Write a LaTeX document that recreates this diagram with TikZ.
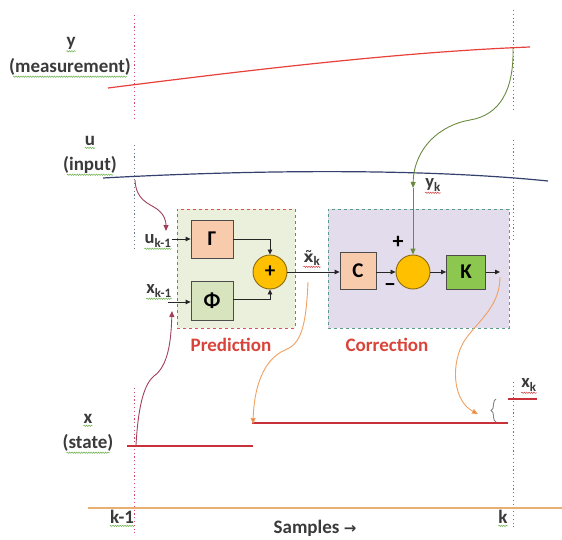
\documentclass[tikz,border=0pt]{standalone}
\usepackage{fontspec}
\setmainfont{Carlito}
\newfontfamily\djv{DejaVu Sans}
\usetikzlibrary{arrows.meta,decorations.pathmorphing,decorations.pathreplacing}
\definecolor{ylinecol}{HTML}{E8403A}
\definecolor{ulinecol}{HTML}{34406E}
\definecolor{statecol}{HTML}{C8303A}
\definecolor{dotred}{HTML}{D24A6E}
\definecolor{dotgray}{HTML}{6A7A8A}
\definecolor{labgray}{HTML}{3A3A3A}
\definecolor{predfill}{HTML}{EAF0DC}
\definecolor{predborder}{HTML}{E05050}
\definecolor{corrfill}{HTML}{E2DCEC}
\definecolor{corrborder}{HTML}{5A9A8A}
\definecolor{peach}{HTML}{F8CBAD}
\definecolor{phifill}{HTML}{D7E4BD}
\definecolor{kfill}{HTML}{8CC850}
\definecolor{sumfill}{HTML}{FFC000}
\definecolor{sumborder}{HTML}{8A6A10}
\definecolor{titlered}{HTML}{D9443A}
\definecolor{maroon}{HTML}{A0405A}
\definecolor{orangecurve}{HTML}{F0A060}
\definecolor{orangetip}{HTML}{ED7D31}
\definecolor{olivecurve}{HTML}{6B8A40}
\definecolor{axiscol}{HTML}{E8B070}
\definecolor{squiggreen}{HTML}{6AB04A}
\definecolor{squigred}{HTML}{D04040}
\begin{document}
\begin{tikzpicture}[x=1pt,y=-1pt,
  every node/.style={font=\fontsize{19}{22}\selectfont\bfseries, inner sep=0pt},
  sidelab/.style={text=labgray},
  sublab/.style={text=labgray, font=\fontsize{18.5}{20}\selectfont\bfseries},
  dotr/.style={dotred, line width=0.9pt, dash pattern=on 1.2pt off 2.6pt},
  dotg/.style={dotgray, line width=0.9pt, dash pattern=on 1.2pt off 2.6pt},
  blk/.style={draw=black!70, line width=0.8pt, font=\fontsize{21}{22}\selectfont\bfseries},
  sumc/.style={circle, draw=sumborder, fill=sumfill, line width=0.9pt, minimum size=34pt},
  arr/.style={-{Triangle[length=5pt,width=4.5pt]}, line width=0.8pt, black!85},
  tip/.style={-{Triangle[length=6pt,width=5pt]}},
  squig/.style={decorate, decoration={snake, amplitude=0.7pt, segment length=2.4pt}, line width=0.5pt},
  gsq/.style={squig, squiggreen},
  rsq/.style={squig, squigred}]
\useasboundingbox (0,0) rectangle (562,540);

% background boxes
\node[draw=predborder, fill=predfill, dashed, line width=0.9pt, minimum width=118pt, minimum height=119pt] (pred) at (236,268.5) {};
\node[draw=corrborder, fill=corrfill, dashed, line width=0.9pt, minimum width=181pt, minimum height=119pt] (corr) at (418.5,268.5) {};
\node[text=titlered] (tpred) at (231,345) {Prediction};
\node[text=titlered] (tcorr) at (387,345) {Correction};

% vertical dotted sample lines
\coordinate (l1a) at (134,15);  \coordinate (l1b) at (134,118);
\coordinate (l2a) at (134,145); \coordinate (l2b) at (134,248);
\coordinate (l3a) at (134,388); \coordinate (l3b) at (134,533);
\coordinate (r1a) at (513,10);  \coordinate (r1b) at (513,110);
\coordinate (r2a) at (513,140); \coordinate (r2b) at (513,240);
\coordinate (r3a) at (513,382); \coordinate (r3b) at (513,527);
\draw[dotr] (l1a) -- (l1b);
\draw[dotg] (l2a) -- (l2b);
\draw[dotr] (l3a) -- (l3b);
\draw[dotr] (r1a) -- (r1b);
\draw[dotg] (r2a) -- (r2b);
\draw[dotr] (r3a) -- (r3b);

% side labels
\node[sidelab] (ty) at (71,43) {y};
\node[sidelab] (tmeas) at (70,67) {(measurement)};
\node[sidelab] (tu) at (90,141) {u};
\node[sidelab] (tinput) at (90,165) {(input)};
\node[sidelab] (tx) at (88,419) {x};
\node[sidelab] (tstate) at (88,443) {(state)};
\node[sidelab] (tk1) at (122,517) {k-1};
\node[sidelab] (tk) at (503,517) {k};
\node[sidelab] (tsamp) at (315,528) {Samples {\djv\fontsize{15}{16}\selectfont →}};
\draw[gsq] ([yshift=-2pt]ty.south west) -- ([yshift=-2pt]ty.south east);
\draw[gsq] ([xshift=4pt,yshift=-1pt]tmeas.south west) -- ([xshift=-4pt,yshift=-1pt]tmeas.south east);
\draw[gsq] ([yshift=-2pt]tu.south west) -- ([yshift=-2pt]tu.south east);
\draw[gsq] ([xshift=4pt,yshift=-1pt]tinput.south west) -- ([xshift=-4pt,yshift=-1pt]tinput.south east);
\draw[gsq] ([yshift=-2pt]tx.south west) -- ([yshift=-2pt]tx.south east);
\draw[gsq] ([xshift=4pt,yshift=-1pt]tstate.south west) -- ([xshift=-4pt,yshift=-1pt]tstate.south east);
\draw[gsq] ([yshift=-2pt]tk1.south west) -- ([yshift=-2pt]tk1.south east);
\draw[gsq] ([yshift=-2pt]tk.south west) -- ([yshift=-2pt]tk.south east);

% signal lines
\coordinate (ya) at (108,88);  \coordinate (yb) at (530,47);
\draw[ylinecol, line width=1.2pt] (ya) .. controls (250,70) and (400,52) .. (yb);
\coordinate (ua) at (103,178); \coordinate (ub) at (548,181);
\draw[ulinecol, line width=1.2pt] (ua) .. controls (250,170) and (420,168) .. (ub);
\coordinate (sa) at (127,446); \coordinate (sb) at (253,446);
\draw[statecol, line width=1.1pt] (sa) -- (sb);
\coordinate (pa) at (252,423); \coordinate (pb) at (508,423);
\draw[statecol, line width=1.1pt] (pa) -- (pb);
\coordinate (xa) at (508,399); \coordinate (xb) at (537,399);
\draw[statecol, line width=1.1pt] (xa) -- (xb);
\coordinate (axa) at (88,508); \coordinate (axb) at (562,508);
\draw[axiscol, line width=1.2pt] (axa) -- (axb);
\draw[gray, line width=0.9pt, decorate, decoration={brace, amplitude=5pt}] (496,422) -- (496,399);

% blocks
\node[blk, fill=peach, minimum width=42pt, minimum height=38pt] (G) at (212,239) {Γ};
\node[blk, fill=phifill, minimum width=42pt, minimum height=39pt] (Phi) at (212,300.5) {Φ};
\node[sumc, font=\fontsize{21}{22}\selectfont\bfseries] (S1) at (270,272) {+};
\node[blk, fill=peach, minimum width=36pt, minimum height=37pt] (C) at (358,271) {C};
\node[sumc] (S2) at (413,272) {};
\node[blk, fill=kfill, minimum width=39pt, minimum height=34pt] (K) at (466,272) {K};

% block labels
\node[sublab] (tuk) at (158,241) {u\textsubscript{k-1}};
\node[sublab] (txk) at (159,291) {x\textsubscript{k-1}};
\node[sublab, anchor=base] (txt) at (312,262) {{\djv\bfseries\fontsize{15.5}{18}\selectfont x̃}\textsubscript{k}};
\node[sublab] (tyk) at (433,185) {y\textsubscript{k}};
\node[sublab] (txkk) at (529,385) {x\textsubscript{k}};
\node[font=\fontsize{22}{22}\selectfont\bfseries] (tplus) at (398,242) {+};
\node[font=\fontsize{22}{22}\selectfont\bfseries] (tminus) at (390,288) {−};
\draw[gsq] ([yshift=-1.5pt]tuk.south west) -- ([yshift=-1.5pt]tuk.south east);
\draw[gsq] ([yshift=-1.5pt]txk.south west) -- ([yshift=-1.5pt]txk.south east);
\draw[rsq] ([yshift=-1.5pt]txt.south west) -- ([yshift=-1.5pt]txt.south east);
\draw[rsq] ([yshift=-1.5pt]tyk.south west) -- ([yshift=-1.5pt]tyk.south east);
\draw[rsq] ([yshift=-1.5pt]txkk.south west) -- ([yshift=-1.5pt]txkk.south east);

% block connectors
\coordinate (uin) at (172,239);
\coordinate (xin) at (168,302);
\coordinate (kout) at (500,272);
\draw[arr] (uin) -- (uin -| G.west);
\draw[arr] (xin) -- (xin -| Phi.west);
\draw[arr] (G.east) -| (S1.north);
\draw[arr] ([yshift=1.5pt]Phi.east) -| (S1.south);
\draw[arr] (S1.east) -- (S1.east -| C.west);
\draw[arr] (C.east |- S2.west) -- (S2.west);
\draw[arr] (S2.east) -- (S2.east -| K.west);
\draw[arr] (K.east) -- (kout);

% curved transfers
\coordinate (uc0) at (135,180); \coordinate (uc1) at (166,231);
\draw[maroon, line width=0.9pt, tip] (uc0) .. controls (136,200) and (148,203) .. (157,209) .. controls (165,215) and (166,222) .. (uc1);
\coordinate (xc0) at (136,445); \coordinate (xc1) at (172,311);
\draw[maroon, line width=0.9pt, tip] (xc0) .. controls (138,410) and (143,385) .. (154,376) .. controls (168,366) and (171,342) .. (xc1);
\coordinate (oc0) at (308,282); \coordinate (oc1) at (253,424);
\draw[orangecurve, line width=0.9pt, -{Triangle[length=6pt,width=5pt,fill=orangetip]}] (oc0) .. controls (306,330) and (300,344) .. (285,350) .. controls (262,360) and (254,390) .. (oc1);
\coordinate (kc0) at (500,277); \coordinate (kc1) at (478,414);
\draw[orangecurve, line width=0.9pt, -{Triangle[length=6pt,width=5pt,fill=orangetip]}] (kc0) .. controls (500,310) and (472,325) .. (462,345) .. controls (450,370) and (455,402) .. (kc1);
\coordinate (yk0) at (513,48); \coordinate (yk1) at (413,188);
\draw[olivecurve, line width=0.9pt, tip] (yk0) .. controls (514,90) and (500,115) .. (470,120) .. controls (440,125) and (414,148) .. (yk1);
\draw[olivecurve, line width=0.9pt, tip] (yk1) -- (S2.north);
\end{tikzpicture}
\end{document}
